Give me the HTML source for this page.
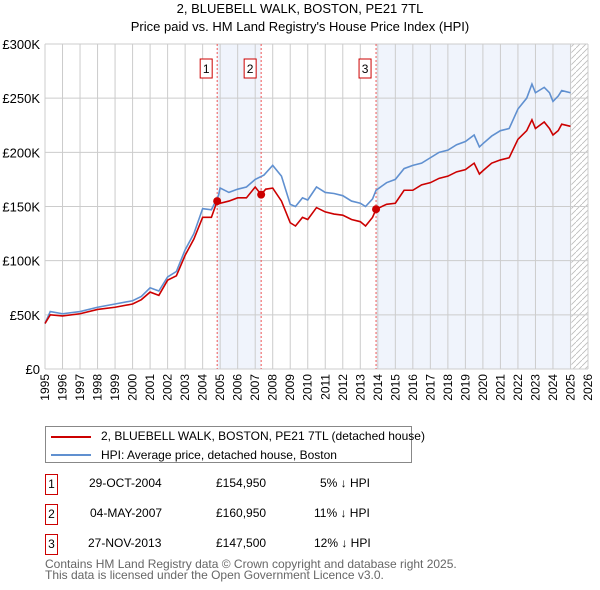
<!DOCTYPE html>
<html><head><meta charset="utf-8"><style>
body{margin:0;background:#fff;font-family:"Liberation Sans","DejaVu Sans",sans-serif;}
#wrap{position:relative;width:600px;height:590px;overflow:hidden;}
.t{position:absolute;font-size:12px;color:#000;white-space:nowrap;}
.box{position:absolute;border:1px solid #c00;width:11px;height:19px;font-size:12px;text-align:center;line-height:19px;}
</style></head><body><div id="wrap">
<div class="t" style="left:0;width:600px;text-align:center;top:1px;font-size:13px">2, BLUEBELL WALK, BOSTON, PE21 7TL</div>
<div class="t" style="left:0;width:600px;text-align:center;top:19px;font-size:13px">Price paid vs. HM Land Registry's House Price Index (HPI)</div>
<svg id="chart" width="600" height="420" style="position:absolute;left:0;top:0"></svg>
<div style="position:absolute;left:45px;top:426px;width:365px;height:35px;border:1px solid #888;">
<div style="position:absolute;left:5px;top:9px;width:40px;height:2px;background:#cc0000"></div>
<div class="t" style="left:55px;top:2px">2, BLUEBELL WALK, BOSTON, PE21 7TL (detached house)</div>
<div style="position:absolute;left:5px;top:27px;width:40px;height:2px;background:#6090d0"></div>
<div class="t" style="left:55px;top:21px">HPI: Average price, detached house, Boston</div>
</div>
<div>
<div class="box" style="left:45px;top:474px">1</div>
<div class="t" style="left:89px;top:476px">29-OCT-2004</div><div class="t" style="left:216px;top:476px">£154,950</div><div class="t" style="left:320px;top:476px">5% ↓ HPI</div>
<div class="box" style="left:45px;top:504px">2</div>
<div class="t" style="left:90px;top:506px">04-MAY-2007</div><div class="t" style="left:216px;top:506px">£160,950</div><div class="t" style="left:314px;top:506px">11% ↓ HPI</div>
<div class="box" style="left:45px;top:534px">3</div>
<div class="t" style="left:88px;top:536px">27-NOV-2013</div><div class="t" style="left:216px;top:536px">£147,500</div><div class="t" style="left:314px;top:536px">12% ↓ HPI</div>
</div>
<div class="t" style="left:45px;top:559px;color:#666;line-height:11px">Contains HM Land Registry data © Crown copyright and database right 2025.<br>This data is licensed under the Open Government Licence v3.0.</div>
</div>
<script>
const hpiYears=[1995,1995.3,1996,1997,1998,1999,2000,2000.5,2001,2001.5,2002,2002.5,2003,2003.5,2004,2004.5,2004.9,2005,2005.5,2006,2006.5,2007,2007.5,2008,2008.5,2009,2009.3,2009.7,2010,2010.5,2011,2011.5,2012,2012.5,2013,2013.3,2013.7,2013.9,2014.5,2015,2015.5,2016,2016.5,2017,2017.5,2018,2018.5,2019,2019.5,2019.8,2020,2020.5,2021,2021.5,2022,2022.5,2022.8,2023,2023.5,2023.8,2024,2024.3,2024.5,2025];
const hpiValues=[42,53,51,53,57,60,63,67,75,72,85,90,110,125,148,147,160,167,163,166,168,175,179,188,178,152,150,158,156,168,163,162,160,155,153,150,157,165,172,175,185,188,190,195,200,202,207,210,216,205,208,215,220,222,240,250,263,255,260,255,247,252,257,255];
const priceYears=[1995,1995.3,1996,1997,1998,1999,2000,2000.5,2001,2001.5,2002,2002.5,2003,2003.5,2004,2004.5,2004.83,2005,2005.5,2006,2006.5,2007,2007.34,2007.6,2008,2008.5,2009,2009.3,2009.7,2010,2010.5,2011,2011.5,2012,2012.5,2013,2013.3,2013.7,2013.9,2014.5,2015,2015.5,2016,2016.5,2017,2017.5,2018,2018.5,2019,2019.5,2019.8,2020,2020.5,2021,2021.5,2022,2022.5,2022.8,2023,2023.5,2023.8,2024,2024.3,2024.5,2025];
const priceValues=[42,50,49,51,55,57,60,64,71,68,82,86,105,120,140,140,155,153,155,158,158,168,161,166,167,155,135,132,140,138,149,145,143,142,138,136,132,140,147.5,152,153,165,165,170,172,176,178,182,184,190,180,183,190,193,195,212,220,230,222,228,222,216,220,226,224];
const saleYears=[2004.83,2007.34,2013.9];
const saleValues=[154.95,160.95,147.5];
const saleLabels=["1","2","3"];
const yTicks=[0,50,100,150,200,250,300];
const yTickLabels=["£0","£50K","£100K","£150K","£200K","£250K","£300K"];
const xTicks=[];for(let y=1995;y<=2026;y++)xTicks.push(y);
const L=45,R=588,T=44,B=369;
const X=y=>L+(y-1995)*(R-L)/31;
const Y=v=>B-v*(B-T)/300;
const NS="http://www.w3.org/2000/svg";
const svg=document.getElementById('chart');
function mk(tag,attrs,parent){const e=document.createElementNS(NS,tag);for(const k in attrs)e.setAttribute(k,attrs[k]);(parent||svg).appendChild(e);return e;}
let s=mk('rect',{x:X(saleYears[0]),y:T,width:X(saleYears[1])-X(saleYears[0]),height:B-T,fill:'#f0f4fc'});


s=mk('rect',{x:X(saleYears[2]),y:T,width:X(2025.05)-X(saleYears[2]),height:B-T,fill:'#f0f4fc'});


const defs=mk('defs',{});
const pat=mk('pattern',{id:'hat',width:6,height:6,patternUnits:'userSpaceOnUse'},defs);
mk('path',{d:'M0,6 L6,0',stroke:'#bbb','stroke-width':0.8},pat);
s=mk('rect',{x:X(2025.05),y:T,width:X(2026)-X(2025.05),height:B-T,fill:'url(#hat)'});


xTicks.forEach(y=>{mk('line',{x1:X(y),x2:X(y),y1:T,y2:B,stroke:'#ccc','stroke-width':1});
 const t=mk('text',{x:X(y)+4,y:374,'font-size':12,'text-anchor':'end','font-family':'Liberation Sans, sans-serif',transform:'rotate(-90 '+(X(y)+4)+' 374)'});t.textContent=y;
 
 });
yTicks.forEach((v,i)=>{mk('line',{x1:L,x2:X(2026),y1:Y(v),y2:Y(v),stroke:'#ccc','stroke-width':1});
 const t=mk('text',{x:40,y:Y(v)+5,'font-size':13,'text-anchor':'end','font-family':'Liberation Sans, sans-serif'});t.textContent=yTickLabels[i];
 
 });
saleYears.forEach((y,i)=>{mk('line',{x1:X(y),x2:X(y),y1:T,y2:B,stroke:'#e55','stroke-width':1,'stroke-dasharray':'2,2'});});
function line(xs,vs,color,name){const p=mk('polyline',{points:xs.map((x,i)=>X(x)+','+Y(vs[i])).join(' '),fill:'none',stroke:color,'stroke-width':1.6});
 
 }
line(hpiYears,hpiValues,'#6090d0','hpi-line');
line(priceYears,priceValues,'#cc0000','price-line');
saleYears.forEach((y,i)=>{const c=mk('circle',{cx:X(y),cy:Y(saleValues[i]),r:4,fill:'#cc0000'});
 
 
 const g=mk('g',{});
 
 
 mk('rect',{x:X(y)-17,y:59,width:12,height:19,fill:'#fff',stroke:'#c00','stroke-width':1},g);
 const t=mk('text',{x:X(y)-11,y:73,'font-size':12,'text-anchor':'middle','font-family':'Liberation Sans, sans-serif'},g);t.textContent=saleLabels[i];});
</script></body></html>
